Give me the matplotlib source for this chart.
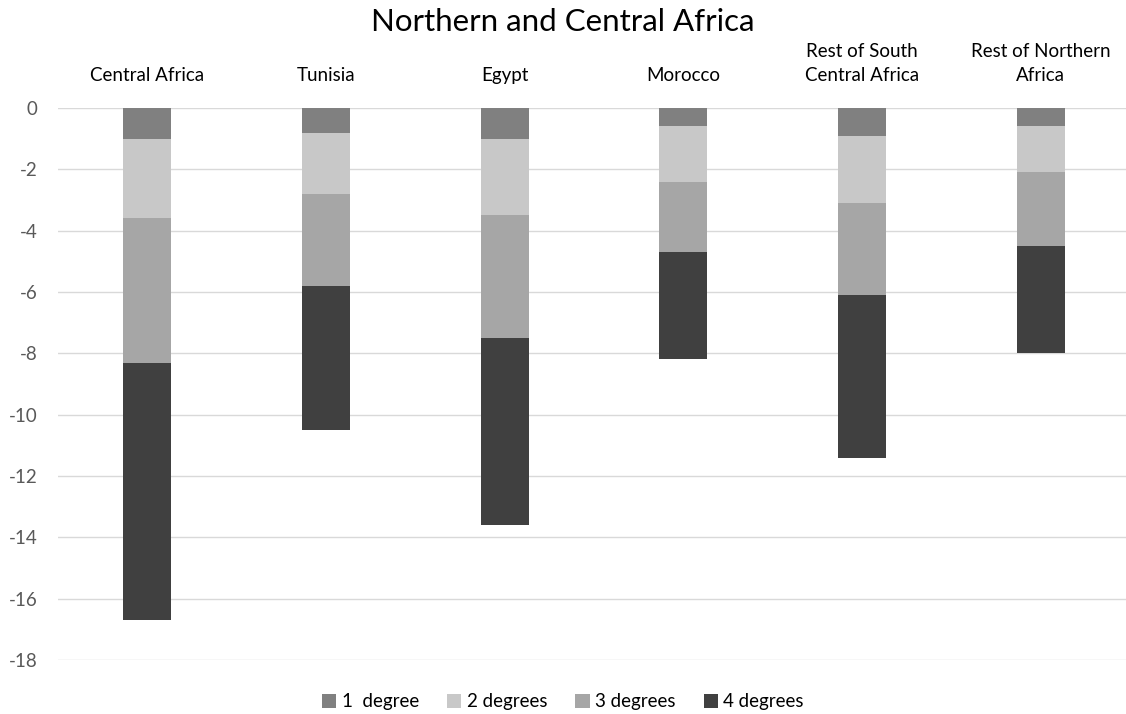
import matplotlib
matplotlib.use("Agg")
import matplotlib.pyplot as plt
import numpy as np

categories = ["Central Africa", "Tunisia", "Egypt", "Morocco",
              "Rest of South\nCentral Africa", "Rest of Northern\nAfrica"]
series_names = ["1  degree", "2 degrees", "3 degrees", "4 degrees"]
deg1 = [-1.0, -0.8, -1.0, -0.6, -0.9, -0.6]
deg2 = [-2.6, -2.0, -2.5, -1.8, -2.2, -1.5]
deg3 = [-4.7, -3.0, -4.0, -2.3, -3.0, -2.4]
deg4 = [-8.4, -4.7, -6.1, -3.5, -5.3, -3.5]
yticks = [0, -2, -4, -6, -8, -10, -12, -14, -16, -18]
colors = ["#808080", "#c8c8c8", "#a6a6a6", "#404040"]

plt.rcParams['font.family'] = ['Lato', 'DejaVu Sans']

fig = plt.figure(figsize=(11.26, 7.14), dpi=100)
ax = fig.add_axes([58/1126, 1-660/714, 1072/1126, (660-108)/714])

x = np.arange(len(categories))
bottom = np.zeros(len(categories))
handles = []
for name, vals, c in zip(series_names, [deg1, deg2, deg3, deg4], colors):
    vals = np.array(vals)
    b = ax.bar(x, vals, 0.27, bottom=bottom, color=c, label=name, zorder=3)
    handles.append(b)
    bottom = bottom + vals

ax.set_xlim(-0.5, len(categories) - 0.5)
ax.set_ylim(-18, 0)
ax.set_yticks(yticks)
ax.set_yticklabels([str(v) for v in yticks])
ax.yaxis.grid(True, color="#d9d9d9", linewidth=1, zorder=0)
ax.set_axisbelow(True)
for s in ax.spines.values():
    s.set_visible(False)

ax.set_xticks(x)
ax.set_xticklabels(categories, fontsize=13.5, color="#000000", linespacing=1.5)
ax.tick_params(axis='x', top=True, labeltop=True, bottom=False, labelbottom=False,
               length=0, pad=17)
ax.tick_params(axis='y', length=0, pad=15, labelsize=13.5, labelcolor="#595959")

fig.text(0.5, 1-22/714, "Northern and Central Africa", ha='center', va='center',
         fontsize=22.5, color="#000000")

fig.legend(handles=handles, labels=series_names, loc='center',
           bbox_to_anchor=(0.5, 1-702/714), ncol=4, frameon=False,
           fontsize=13.5, handlelength=0.75, handleheight=0.75,
           handletextpad=0.3, columnspacing=1.5)

fig.savefig("out.png", dpi=100)
